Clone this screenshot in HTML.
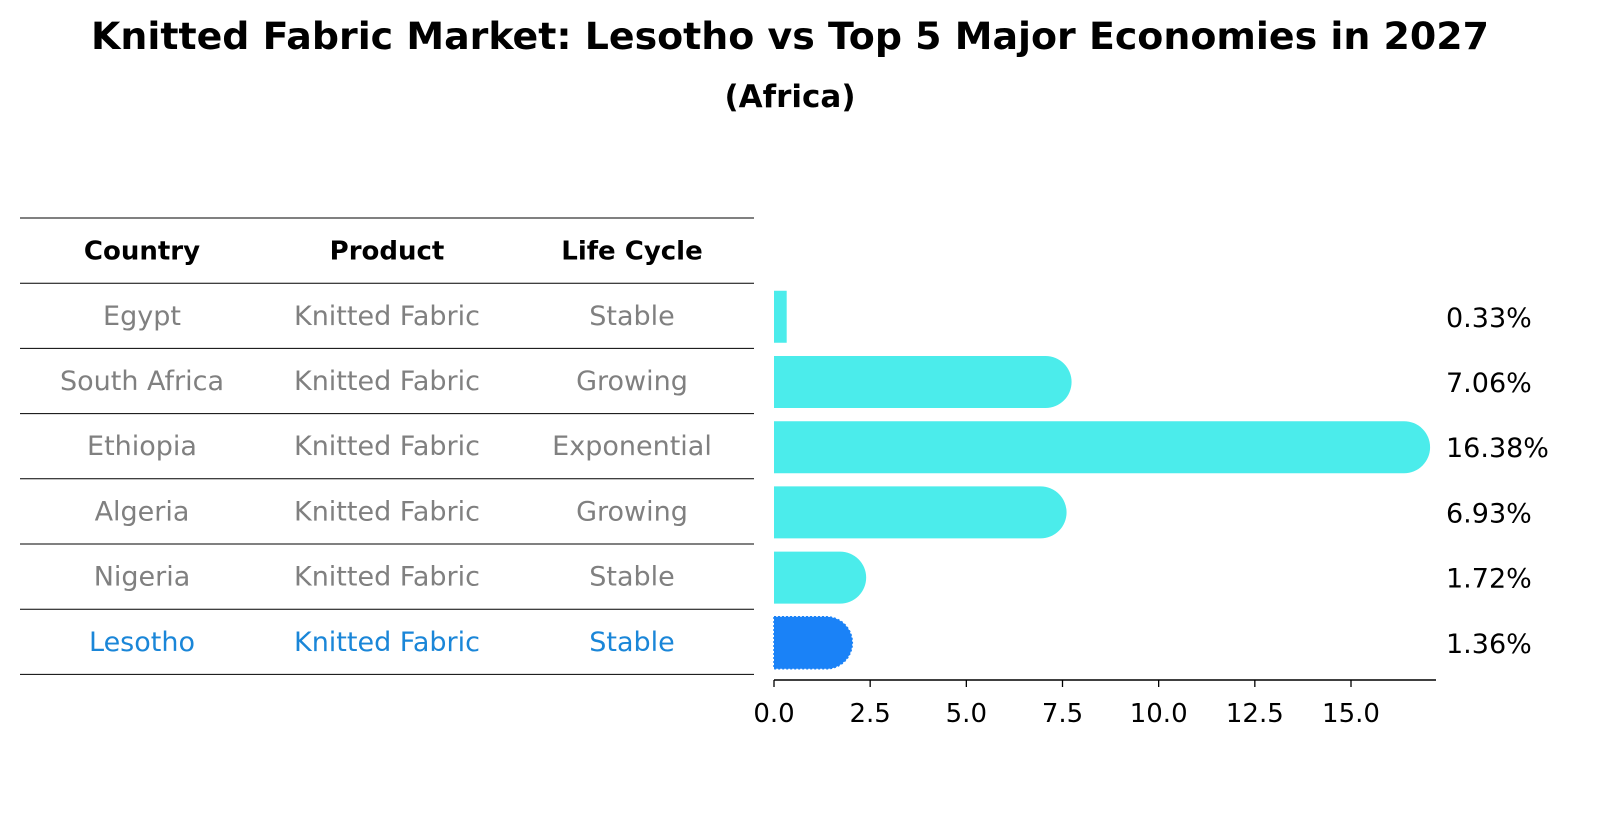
<!DOCTYPE html>
<html><head><meta charset="utf-8"><style>
body{margin:0;background:#fff;font-family:"Liberation Sans","DejaVu Sans",sans-serif;}
</style></head><body>
<svg width="1604" height="823" xmlns="http://www.w3.org/2000/svg" font-family="DejaVu Sans, Liberation Sans, sans-serif">
<text x="790" y="49" text-anchor="middle" font-size="37" font-weight="bold" textLength="1398" lengthAdjust="spacingAndGlyphs">Knitted Fabric Market: Lesotho vs Top 5 Major Economies in 2027</text>
<text x="790" y="107" text-anchor="middle" font-size="31" font-weight="bold">(Africa)</text>
<g id="table"></g>
<g id="bars"></g>
</svg>
<script>
const countries=["Egypt","South Africa","Ethiopia","Algeria","Nigeria","Lesotho"];
const products=["Knitted Fabric","Knitted Fabric","Knitted Fabric","Knitted Fabric","Knitted Fabric","Knitted Fabric"];
const lifeCycles=["Stable","Growing","Exponential","Growing","Stable","Stable"];
const shares=[0.33,7.06,16.38,6.93,1.72,1.36];
const xTicks=[0,2.5,5,7.5,10,12.5,15];
const NS="http://www.w3.org/2000/svg";
function mk(t,a,p){const e=document.createElementNS(NS,t);for(const k in a)e.setAttribute(k,a[k]);p.appendChild(e);return e;}
const tbl=document.getElementById('table'),bars=document.getElementById('bars');
const rowTop=218,rowH=65.2;
const cols=[142,387,632];
for(let i=0;i<=countries.length+1;i++){
  const l=mk('line',{x1:20,x2:754,y1:rowTop+i*rowH,y2:rowTop+i*rowH,stroke:'#000','stroke-width':1},tbl);
  
  
}
["Country","Product","Life Cycle"].forEach((h,j)=>{
  const t=mk('text',{x:cols[j],y:rowTop+rowH/2+9,'text-anchor':'middle','font-size':26,'font-weight':'bold'},tbl);
  t.textContent=h;
  
  
});
const x0=774,xs=577/15;
function X(v){return x0+v*xs;}
countries.forEach((c,i)=>{
  const cy=rowTop+rowH*(i+1)+rowH/2;
  const color=c==="Lesotho"?'#1a86d8':'#808080';
  [c,products[i],lifeCycles[i]].forEach((s,j)=>{
    const t=mk('text',{x:cols[j],y:cy+9,'text-anchor':'middle','font-size':27,fill:color},tbl);
    t.textContent=s;
    
    
  });
  const bc=cy+1,h=52,r=26;
  const fill=c==="Lesotho"?'#1a82f7':'#4beceb';
  const w=X(shares[i])-x0;
  let d;
  if(w>r){d=`M${x0},${bc-h/2} H${x0+w} A${r},${r} 0 0 1 ${x0+w},${bc+h/2} H${x0} Z`;}
  else{d=`M${x0},${bc-h/2} H${x0+w} V${bc+h/2} H${x0} Z`;}
  const attrs={d:d,fill:fill};
  if(c==="Lesotho"){attrs.stroke='#1a82f7';attrs['stroke-width']=1.5;attrs['stroke-dasharray']='2,2';}
  const b=mk('path',attrs,bars);
  
  
  const lb=mk('text',{x:1446,y:bc+10,'font-size':27},bars);
  lb.textContent=shares[i].toFixed(2)+'%';
  
  
});
const ax=mk('line',{x1:x0,x2:1436,y1:680,y2:680,stroke:'#000','stroke-width':1.5},bars);


xTicks.forEach(v=>{
  const tk=mk('line',{x1:X(v),x2:X(v),y1:680,y2:687,stroke:'#000','stroke-width':1.3},bars);
  
  
  const t=mk('text',{x:X(v),y:722,'text-anchor':'middle','font-size':26},bars);
  t.textContent=v.toFixed(1);
  
  
});
</script>
</body></html>
